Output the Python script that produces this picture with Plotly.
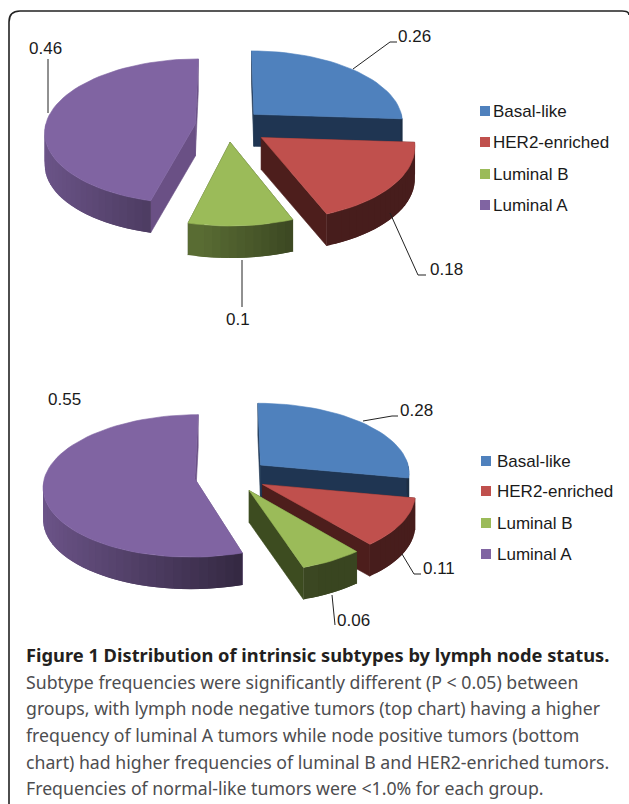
import numpy as np
import plotly.graph_objects as go

# values, clockwise from 12 o'clock
subtypes = ['Basal-like', 'HER2-enriched', 'Luminal B', 'Luminal A']
node_negative = [0.26, 0.18, 0.1, 0.46]
node_positive = [0.28, 0.11, 0.06, 0.55]

top_colors = ['#4f81bd', '#c0504d', '#9bbb59', '#8064a2']
edge_colors = ['#1f3552', '#4d1e1c', '#3d4c20', '#6a5085']

caption_title = 'Figure 1 Distribution of intrinsic subtypes by lymph node status.'
caption_lines = [
    'Subtype frequencies were significantly different (P < 0.05) between',
    'groups, with lymph node negative tumors (top chart) having a higher',
    'frequency of luminal A tumors while node positive tumors (bottom',
    'chart) had higher frequencies of luminal B and HER2-enriched tumors.',
    'Frequencies of normal-like tumors were <1.0% for each group.',
]

WIDTH, HEIGHT = 629, 804
RX, DEPTH, PERSP = 150, 32, 0.1
DRAW_ORDER = [3, 0, 1, 2]


def project(px, py, pie):
    # tilted pie plane to page position, far side a bit smaller
    p = 1 / (1 + PERSP * py)
    return pie['cx'] + RX * px * p, pie['cy'] - pie['ry'] * py * p


def shade(color, factor):
    r, g, b = [int(color[i:i + 2], 16) for i in (1, 3, 5)]
    return f'rgb({int(r * factor)},{int(g * factor)},{int(b * factor)})'


def add_poly(fig, xs, ys, color, width=0.6):
    fig.add_trace(go.Scatter(
        x=list(xs) + [xs[0]], y=list(ys) + [ys[0]],
        mode='lines', fill='toself', fillcolor=color,
        line=dict(color=color, width=width),
        hoverinfo='skip', showlegend=False,
    ))


def add_pie(fig, values, pie):
    edges = np.cumsum([0] + values) * 2 * np.pi / sum(values)
    for i in DRAW_ORDER:
        t0, t1 = edges[i], edges[i + 1]
        mid = (t0 + t1) / 2
        ox, oy = pie['explode'][i] * np.sin(mid), pie['explode'][i] * np.cos(mid)
        n = int(np.ceil(np.degrees(t1 - t0) / 3)) + 1
        theta = np.linspace(t0, t1, n)
        arc_x, arc_y = project(ox + np.sin(theta), oy + np.cos(theta), pie)
        ax, ay = project(ox, oy, pie)

        # the two cut faces
        for tx, ty in ((arc_x[0], arc_y[0]), (arc_x[-1], arc_y[-1])):
            add_poly(fig, [ax, tx, tx, ax], [ay, ty, ty + DEPTH, ay + DEPTH], edge_colors[i])

        # outer wall, only the part facing us, darker to the right
        # each strip runs back over the one before so no seams show
        for k in range(n - 1):
            m = (theta[k] + theta[k + 1]) / 2
            if np.cos(m) > 0:
                continue
            factor = max(0.37, 0.5 - 0.35 * np.sin(m))
            j = max(k - 1, 0)
            add_poly(fig,
                     [arc_x[j], arc_x[k], arc_x[k + 1], arc_x[k + 1], arc_x[k], arc_x[j]],
                     [arc_y[j], arc_y[k], arc_y[k + 1],
                      arc_y[k + 1] + DEPTH, arc_y[k] + DEPTH, arc_y[j] + DEPTH],
                     shade(top_colors[i], factor), width=0)

        add_poly(fig, [ax] + list(arc_x), [ay] + list(arc_y), top_colors[i])


fig = go.Figure()
add_pie(fig, node_negative, dict(cx=228, cy=126, ry=72, explode=[0.24, 0.27, 0.22, 0.22]))
add_pie(fig, node_positive, dict(cx=232, cy=476, ry=70, explode=[0.25, 0.233, 0.233, 0.25]))

# leader lines
leaders = [
    ([353, 390, 397], [69, 42, 42]),
    ([48, 48], [59, 113]),
    ([390, 418, 426], [213, 275, 275]),
    ([242, 242], [260, 307]),
    ([363, 392, 398], [421, 416, 416]),
    ([402, 414, 421], [554, 574, 574]),
    ([332, 335], [595, 625]),
]
for lx, ly in leaders:
    fig.add_trace(go.Scatter(x=lx, y=ly, mode='lines', line=dict(color='#222222', width=1),
                             hoverinfo='skip', showlegend=False))

annotations = []


def add_text(text, x, y, size=17, anchor='left', color='#1a1a1a', family='Liberation Sans'):
    annotations.append(dict(
        text=text, x=x, y=y, xref='x', yref='y', xanchor=anchor, yanchor='middle',
        showarrow=False, font=dict(family=family, size=size, color=color),
    ))


# value labels
for val, x, y, anchor in [
    (node_negative[0], 396, 36, 'left'), (node_negative[3], 45, 48, 'center'),
    (node_negative[1], 428, 269, 'left'), (node_negative[2], 238, 319, 'center'),
    (node_positive[0], 398, 410, 'left'), (node_positive[3], 64, 399, 'center'),
    (node_positive[1], 421, 568, 'left'), (node_positive[2], 335, 620, 'left'),
]:
    add_text(str(val), x, y, anchor=anchor)

# legends
for sq_x, txt_x, rows in [(485, 491, [111, 142, 174, 205]), (486, 495, [461, 491, 523, 554])]:
    fig.add_trace(go.Scatter(
        x=[sq_x] * 4, y=rows, mode='markers',
        marker=dict(symbol='square', size=10, color=top_colors),
        hoverinfo='skip', showlegend=False,
    ))
    for name, y in zip(subtypes, rows):
        add_text(name, txt_x, y)

# caption
add_text(f'<b>{caption_title}</b>', 24, 654, size=18.3, color='#231f20', family='Noto Sans')
for line, y in zip(caption_lines, [682, 708, 735, 762, 788]):
    add_text(line, 24, y, size=17.7, color='#4d4d4f', family='Noto Sans')

# rounded frame around figure and caption
frame = dict(
    type='path', xref='x', yref='y',
    path='M 9,804 L 9,22 Q 9,11 20,11 L 622,11 Q 629,11 629,15',
    line=dict(color='#222222', width=1.6),
)

fig.update_layout(
    width=WIDTH, height=HEIGHT,
    margin=dict(l=0, r=0, t=0, b=0),
    paper_bgcolor='white', plot_bgcolor='white',
    xaxis=dict(range=[0, WIDTH], visible=False, fixedrange=True),
    yaxis=dict(range=[HEIGHT, 0], visible=False, fixedrange=True),
    annotations=annotations,
    shapes=[frame],
    showlegend=False,
)

fig.write_html("out.html", config={'displayModeBar': False},
               post_script="document.body.style.margin='0';document.body.style.overflow='hidden';")
